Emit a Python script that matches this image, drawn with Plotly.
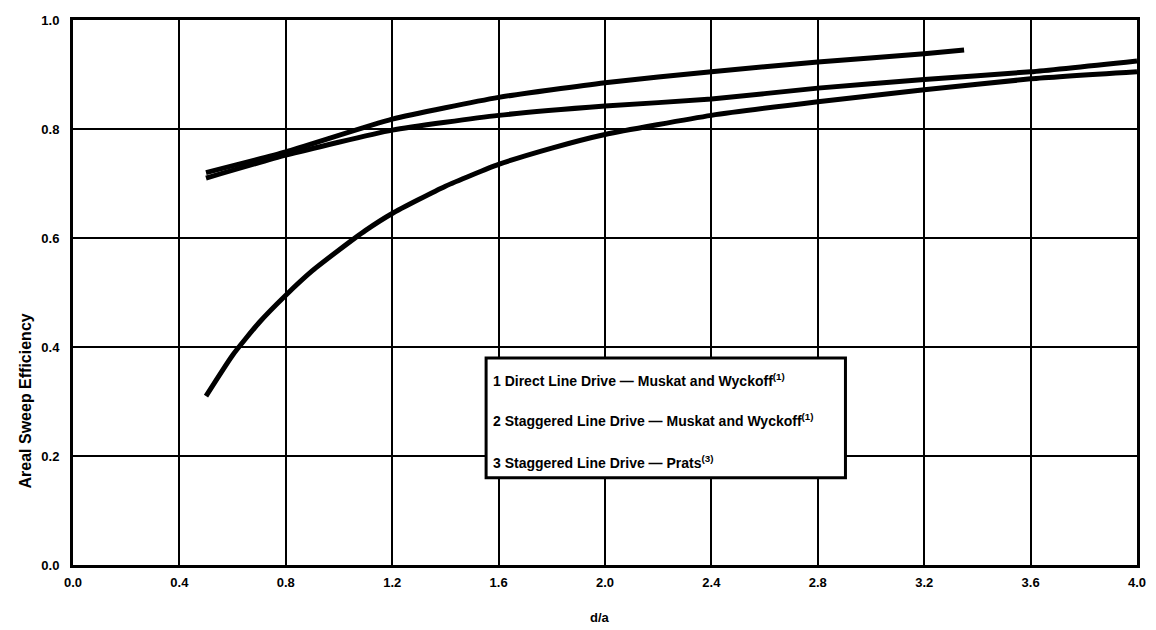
import plotly.graph_objects as go

# Curve data (x = d/a, y = areal sweep efficiency)
top_x = [0.5, 0.8, 1.2, 1.6, 2.0, 2.4, 2.8, 3.2, 3.35]
top_y = [0.72, 0.758, 0.818, 0.858, 0.885, 0.905, 0.923, 0.938, 0.945]

mid_x = [0.5, 0.8, 1.2, 1.6, 2.0, 2.4, 2.8, 3.2, 3.6, 4.0]
mid_y = [0.71, 0.752, 0.798, 0.825, 0.842, 0.855, 0.875, 0.891, 0.905, 0.925]

low_x = [0.5, 0.6, 0.7, 0.8, 0.9, 1.0, 1.1, 1.2, 1.4, 1.6, 1.8, 2.0, 2.4, 2.8, 3.2, 3.6, 4.0]
low_y = [0.31, 0.385, 0.445, 0.495, 0.54, 0.578, 0.614, 0.645, 0.695, 0.735, 0.765, 0.79, 0.825, 0.85, 0.872, 0.892, 0.905]

x_ticks = [0.0, 0.4, 0.8, 1.2, 1.6, 2.0, 2.4, 2.8, 3.2, 3.6, 4.0]
y_ticks = [0.0, 0.2, 0.4, 0.6, 0.8, 1.0]

x_title = "d/a"
y_title = "Areal Sweep Efficiency"

legend_lines = [
    "1 Direct Line Drive \u2014 Muskat and Wyckoff<sup>(1)</sup>",
    "2 Staggered Line Drive \u2014 Muskat and Wyckoff<sup>(1)</sup>",
    "3 Staggered Line Drive \u2014 Prats<sup>(3)</sup>",
]

FONT = "Liberation Sans, Arial, sans-serif"

fig = go.Figure()
for xs, ys in [(top_x, top_y), (mid_x, mid_y), (low_x, low_y)]:
    fig.add_trace(go.Scatter(x=xs, y=ys, mode="lines",
                             line=dict(color="black", width=5, shape="spline", smoothing=0.5),
                             showlegend=False, hoverinfo="skip"))

tick_font = dict(size=13, family=FONT, color="black", weight="bold")

fig.update_layout(
    width=1156, height=630,
    margin=dict(l=73, r=19, t=20, b=65),
    paper_bgcolor="white", plot_bgcolor="white",
    font=dict(family=FONT, size=11, color="black"),
    xaxis=dict(range=[0, 4.0], tickvals=x_ticks, tickformat=".1f", automargin=False,
               showgrid=True, gridcolor="black", gridwidth=2,
               showline=True, linecolor="black", linewidth=3, mirror=True,
               zeroline=False, ticks="", tickfont=tick_font, ticklabelstandoff=3),
    yaxis=dict(range=[0, 1.0], tickvals=y_ticks, tickformat=".1f", automargin=False,
               showgrid=True, gridcolor="black", gridwidth=2,
               showline=True, linecolor="black", linewidth=3, mirror=True,
               zeroline=False, ticks="", tickfont=tick_font, ticklabelstandoff=8),
)

# Axis titles placed as in the reference
fig.add_annotation(x=(600 - 73) / 1064, y=-0.097, xref="paper", yref="paper",
                   text="<b>" + x_title + "</b>", showarrow=False,
                   xanchor="center", yanchor="middle",
                   font=dict(size=13, family=FONT, color="black"))
fig.add_annotation(x=(25 - 73) / 1064, y=0.30, xref="paper", yref="paper",
                   text="<b>" + y_title + "</b>", showarrow=False, textangle=-90,
                   xanchor="center", yanchor="middle",
                   font=dict(size=16, family=FONT, color="black"))

# Legend box
fig.add_shape(type="rect", xref="x", yref="y", x0=1.553, x1=2.904, y0=0.16, y1=0.38,
              line=dict(color="black", width=3), fillcolor="white", layer="above")
for txt, yy in zip(legend_lines, [0.34, 0.266, 0.189]):
    fig.add_annotation(x=1.572, y=yy, xref="x", yref="y", text="<b>" + txt + "</b>",
                       showarrow=False, xanchor="left", yanchor="middle",
                       font=dict(size=14, color="black", family=FONT))

fig.write_html("out.html", config={"displayModeBar": False},
               post_script="document.body.style.margin='0';document.body.style.overflow='hidden';")
